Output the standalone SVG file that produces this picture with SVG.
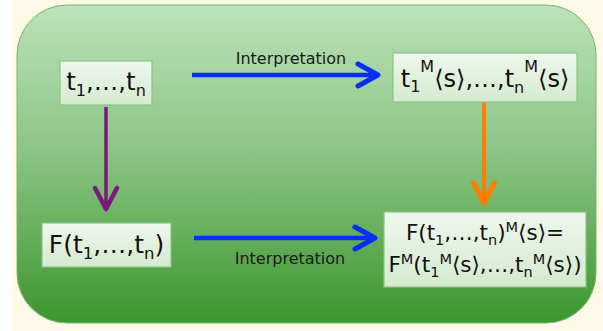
<svg xmlns="http://www.w3.org/2000/svg" width="603" height="331" viewBox="0 0 603 331">
  <defs>
    <linearGradient id="bg" x1="0" y1="0" x2="0" y2="1">
      <stop offset="0" stop-color="#bce2ba"/>
      <stop offset="0.45" stop-color="#8cc585"/>
      <stop offset="1" stop-color="#3d962f"/>
    </linearGradient>
    <linearGradient id="box" x1="0" y1="0" x2="0" y2="1">
      <stop offset="0" stop-color="#eff7ed"/>
      <stop offset="1" stop-color="#d4eacf"/>
    </linearGradient>
    <marker id="hb" markerUnits="userSpaceOnUse" overflow="visible" orient="auto" refX="0" refY="0" markerWidth="30" markerHeight="30">
      <path d="M-20,-11 L0,0 L-20,11" fill="none" stroke="#0a2ef8" stroke-width="5" stroke-linecap="round" stroke-linejoin="round"/>
    </marker>
    <marker id="hp" markerUnits="userSpaceOnUse" overflow="visible" orient="auto" refX="0" refY="0" markerWidth="30" markerHeight="30">
      <path d="M-21,-11 L0,0 L-21,11" fill="none" stroke="#7a1a7c" stroke-width="4.5" stroke-linecap="round" stroke-linejoin="round"/>
    </marker>
    <marker id="ho" markerUnits="userSpaceOnUse" overflow="visible" orient="auto" refX="0" refY="0" markerWidth="30" markerHeight="30">
      <path d="M-20,-10.5 L0,0 L-20,10.5" fill="none" stroke="#ff7c00" stroke-width="5" stroke-linecap="round" stroke-linejoin="round"/>
    </marker>
  </defs>
  <style>
    .node rect { fill: url(#box); stroke: #8cc386; stroke-width: 1.2; }
    .t { font-family: "DejaVu Sans", Verdana, sans-serif; fill: #111; text-anchor: middle; }
    .lbl { font-family: "DejaVu Sans", Verdana, sans-serif; fill: #1a1a1a; font-size: 16px; text-anchor: middle; }
    .conn path { fill: none; }
  </style>
  <rect x="0" y="0" width="603" height="331" fill="#ffffff"/>
  <rect x="11" y="0" width="592" height="331" fill="#fdfbe8"/>
  <rect x="17" y="5" width="579" height="318" rx="50" ry="50" fill="url(#bg)" stroke="#78b472" stroke-width="1"/>

  <g id="connectors" class="conn">
    <path d="M192,75 L378,75" stroke="#0a2ef8" stroke-width="4.5" marker-end="url(#hb)"/>
    <path d="M194,238 L375,238" stroke="#0a2ef8" stroke-width="4.5" marker-end="url(#hb)"/>
    <path d="M106,107 L106,209" stroke="#7a1a7c" stroke-width="3.5" marker-end="url(#hp)"/>
    <path d="M484,102 L484,203" stroke="#ff7c00" stroke-width="4" marker-end="url(#ho)"/>
    <text class="lbl" x="291" y="64">Interpretation</text>
    <text class="lbl" x="290" y="264">Interpretation</text>
  </g>

  <g id="node-terms" class="node">
    <rect x="60" y="61" width="92" height="44"/>
    <text class="t" x="106" y="90" font-size="24.5">t<tspan font-size="16" dy="6">1</tspan><tspan dy="-6">,…,t</tspan><tspan font-size="16" dy="6">n</tspan></text>
  </g>

  <g id="node-interp" class="node">
    <rect x="393" y="53" width="184" height="49"/>
    <text class="t" x="485" y="87" font-size="24">t<tspan font-size="16" dy="5">1</tspan><tspan font-size="16" dy="-20">M</tspan><tspan dy="15">⟨s⟩,…,t</tspan><tspan font-size="16" dy="6">n</tspan><tspan font-size="16" dy="-21">M</tspan><tspan dy="15">⟨s⟩</tspan></text>
  </g>

  <g id="node-func" class="node">
    <rect x="42" y="223" width="129" height="44"/>
    <text class="t" x="106.5" y="253" font-size="25">F(t<tspan font-size="16.5" dy="5.5">1</tspan><tspan dy="-5.5">,…,t</tspan><tspan font-size="16.5" dy="5.5">n</tspan><tspan dy="-5.5">)</tspan></text>
  </g>

  <g id="node-result" class="node">
    <rect x="384" y="212" width="202" height="75"/>
    <text class="t" x="485" y="240" font-size="21.5">F(t<tspan font-size="14.5" dy="4.5">1</tspan><tspan dy="-4.5">,…,t</tspan><tspan font-size="14.5" dy="4.5">n</tspan><tspan dy="-4.5">)</tspan><tspan font-size="14.5" dy="-8.5">M</tspan><tspan dy="8.5">⟨s⟩=</tspan></text>
    <text class="t" x="485" y="272" font-size="21.5">F<tspan font-size="14.5" dy="-8">M</tspan><tspan dy="8">(t</tspan><tspan font-size="14.5" dy="4.5">1</tspan><tspan font-size="14.5" dy="-12.5">M</tspan><tspan dy="8">⟨s⟩,…,t</tspan><tspan font-size="14.5" dy="4.5">n</tspan><tspan font-size="14.5" dy="-12.5">M</tspan><tspan dy="8">⟨s⟩)</tspan></text>
  </g>
</svg>
